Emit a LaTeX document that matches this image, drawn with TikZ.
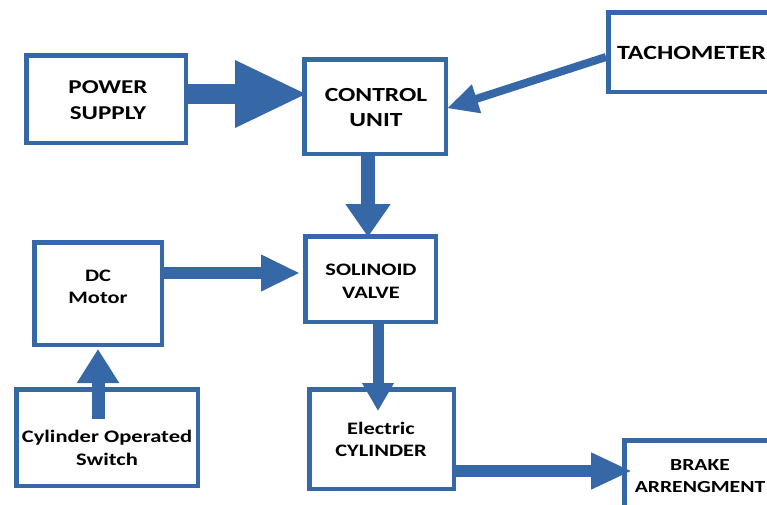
\documentclass[tikz,border=0pt]{standalone}
\usepackage{fontspec}
\setmainfont{Carlito}[FakeStretch=1.28]
\usetikzlibrary{arrows.meta}
\definecolor{bblue}{RGB}{54,103,166}
\tikzset{
  box/.style={draw=bblue, line width=4.5pt, fill=white, inner sep=0pt},
  lbl/.style 2 args={align=center, font=\bfseries\fontsize{#1}{#2}\selectfont, inner sep=0pt},
  arr/.style={draw=bblue, fill=bblue, line cap=butt},
}
\begin{document}
\begin{tikzpicture}[x=1pt,y=-1pt]
\clip (0,0) rectangle (767,504);
\fill[white] (0,0) rectangle (767,504);
% boxes
\node[box, minimum width=159.5pt, minimum height=87.5pt] (ps) at (106,99) {};
\node[box, minimum width=141.5pt, minimum height=94.5pt] (cu) at (375,106.5) {};
\node[box, minimum width=209.5pt, minimum height=79.5pt] (tach) at (713,52) {};
\node[box, minimum width=130.5pt, minimum height=85.5pt] (sv) at (370.5,279) {};
\node[box, minimum width=127.5pt, minimum height=102.5pt] (dc) at (98,293.5) {};
\node[box, minimum width=181.5pt, minimum height=96.5pt] (sw) at (107,437.5) {};
\node[box, minimum width=144.5pt, minimum height=99.5pt] (ec) at (381.5,439) {};
\node[box, minimum width=193.5pt, minimum height=97.5pt] (br) at (721,489) {};
% labels
\node[lbl={19.6}{26}] (tps) at (108,100.5) {POWER\\SUPPLY};
\node[lbl={20}{25}] (tcu) at (376,108) {CONTROL\\UNIT};
\node[lbl={20.2}{24}, anchor=west] (ttach) at (617,53) {TACHOMETER};
\node[lbl={17.5}{22}] (tdc) at (98,286.5) {DC\\Motor};
\node[lbl={17.5}{23}] (tsv) at (371,281) {SOLINOID\\VALVE};
\node[lbl={17.6}{23}] (tsw) at (107,448) {Cylinder Operated\\Switch};
\node[lbl={17.5}{22}] (tec) at (381,439.5) {Electric\\CYLINDER};
\node[lbl={16.9}{22}] (tbr) at (700,476.5) {BRAKE\\ARRENGMENT};
% connectors
\coordinate (swtop) at (98,419);
\draw[arr, line width=20pt, -{Triangle[length=73pt,width=62pt]}, shorten >=-6pt] ([yshift=5pt]ps.east) -- ([yshift=12.5pt]cu.west);
\draw[arr, line width=8pt, -{Triangle[length=31pt,width=28pt]}, shorten >=-1pt] ([yshift=-5pt]tach.west) -- ([yshift=-1.5pt]cu.east);
\draw[arr, line width=14pt, -{Triangle[length=33pt,width=43pt]}, shorten >=-3pt] ([xshift=-7pt]cu.south) -- ([xshift=-2.5pt]sv.north);
\draw[arr, line width=12pt, -{Triangle[length=39pt,width=34pt]}, shorten >=3pt] ([yshift=20.5pt]dc.east) -- ([yshift=6pt]sv.west);
\draw[arr, line width=13pt, -{Triangle[length=34pt,width=40pt]}, shorten >=2pt] (swtop) -- (dc.south);
\draw[arr, line width=11pt, -{Triangle[length=28pt,width=30pt]}, shorten >=-24pt] ([xshift=7.5pt]sv.south) -- ([xshift=-3.5pt]ec.north);
\draw[arr, line width=12pt, -{Triangle[length=41pt,width=34pt]}, shorten >=-10pt] ([yshift=-32pt]ec.east) -- ([yshift=18pt]br.west);
\end{tikzpicture}
\end{document}
